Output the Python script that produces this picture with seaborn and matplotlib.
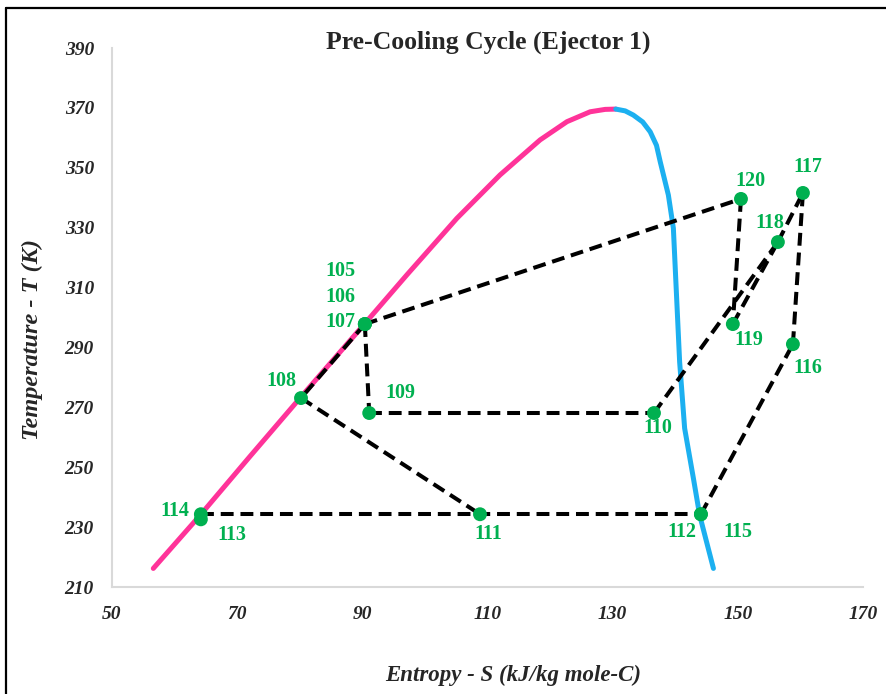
import numpy as np
import pandas as pd
import matplotlib
matplotlib.use("Agg")
import matplotlib.pyplot as plt
from matplotlib.lines import Line2D
import seaborn as sns

# ---- data ----
# saturated liquid line (pink) and saturated vapour line (blue)
liq_S = [56.6, 64.1, 72.0, 80.0, 90.2, 97.1, 105.1, 112.0, 118.4, 122.7, 126.4, 128.8, 130.5]
liq_T = [216.2, 234.0, 253.5, 273.0, 297.5, 314.2, 333.1, 347.6, 359.3, 365.4, 368.7, 369.5, 369.6]
vap_S = [130.5, 132.0, 133.3, 134.8, 136.0, 137.0, 137.6, 138.9, 139.7, 140.2, 140.7, 141.5, 142.9, 143.9, 146.1]
vap_T = [369.6, 369.0, 367.6, 365.3, 362.0, 357.5, 352.0, 340.9, 329.8, 307.5, 285.2, 263.0, 246.3, 234.0, 216.2]

# cycle state points
state_ids = ["105", "106", "107", "108", "109", "110", "111", "112",
             "113", "114", "115", "116", "117", "118", "119", "120"]
state_S = [90.4, 90.4, 90.4, 80.2, 91.1, 136.6, 108.8, 144.1,
           64.2, 64.2, 144.1, 158.8, 160.4, 156.4, 149.2, 150.5]
state_T = [297.8, 297.8, 297.8, 273.1, 268.1, 268.1, 234.3, 234.3,
           232.6, 234.3, 234.3, 291.1, 341.6, 325.2, 297.8, 339.6]

# process connections (dashed)
segments = [("107", "108"), ("108", "111"), ("107", "109"), ("109", "110"),
            ("110", "118"), ("118", "117"), ("119", "118"), ("120", "119"),
            ("107", "120"), ("114", "112"), ("115", "116"), ("116", "117")]

x_ticks = [50, 70, 90, 110, 130, 150, 170]
y_ticks = [210, 230, 250, 270, 290, 310, 330, 350, 370, 390]

title = "Pre-Cooling Cycle (Ejector 1)"
x_label = "Entropy - S (kJ/kg mole-C)"
y_label = "Temperature - T (K)"

# label offsets in pixels (style)
label_offsets = {"105": (-24, 53), "106": (-24, 27), "107": (-24, 2), "108": (-20, 17),
                 "109": (31, 20), "110": (4, -15), "111": (8, -20), "112": (-19, -18),
                 "113": (31, -16), "114": (-26, 3), "115": (37, -18), "116": (15, -24),
                 "117": (5, 26), "118": (-8, 19), "119": (16, -16), "120": (9, 18)}

# ---- style ----
sns.set_style("white")
plt.rcParams["font.family"] = ["Liberation Serif", "DejaVu Serif"]

PINK = "#FF3399"
BLUE = "#1CB0F0"
GREEN = "#00B050"

fig = plt.figure(figsize=(8.87, 6.94), dpi=100)
ax = fig.add_axes([112 / 887, 1 - 587 / 694, (863 - 112) / 887, (587 - 48) / 694])

liq = pd.DataFrame({"S": liq_S, "T": liq_T})
vap = pd.DataFrame({"S": vap_S, "T": vap_T})
sns.lineplot(data=liq, x="S", y="T", sort=False, estimator=None, color=PINK,
             linewidth=3.6, ax=ax, solid_capstyle="round", solid_joinstyle="round")
sns.lineplot(data=vap, x="S", y="T", sort=False, estimator=None, color=BLUE,
             linewidth=3.6, ax=ax, solid_capstyle="round", solid_joinstyle="round")

pos = {k: (s, t) for k, s, t in zip(state_ids, state_S, state_T)}
rows = []
for i, (a, b) in enumerate(segments):
    for k in (a, b):
        rows.append({"seg": i, "S": pos[k][0], "T": pos[k][1]})
seg_df = pd.DataFrame(rows)
for i, g in seg_df.groupby("seg"):
    sns.lineplot(data=g, x="S", y="T", sort=False, estimator=None, color="black",
                 linewidth=2.9, ax=ax)
for line in ax.lines[2:]:
    line.set_dashes((3.2, 1.7))
    line.set_zorder(3)

pts = pd.DataFrame({"id": state_ids, "S": state_S, "T": state_T})
sns.scatterplot(data=pts, x="S", y="T", color=GREEN, s=100, edgecolor="none",
                ax=ax, zorder=5)

for k, s, t in zip(state_ids, state_S, state_T):
    dx, dy = label_offsets[k]
    ax.annotate(k, (s, t), xytext=(dx, dy), textcoords="offset pixels",
                ha="center", va="center", color=GREEN, fontsize=14.5,
                fontweight="bold", zorder=6)

ax.set_xlim(50, 170)
ax.set_ylim(210, 390)
ax.set_xticks(x_ticks)
ax.set_yticks(y_ticks)
ax.set_xticklabels([str(v) for v in x_ticks])
ax.set_yticklabels([str(v) for v in y_ticks])
ax.tick_params(axis="both", length=0, labelsize=14)
ax.tick_params(axis="x", pad=14)
ax.tick_params(axis="y", pad=13)
for lab in ax.get_xticklabels() + ax.get_yticklabels():
    lab.set_fontweight("bold")
    lab.set_fontstyle("italic")
ax.set_xlabel("")
ax.set_ylabel("")
ax.grid(False)
for side in ["top", "right"]:
    ax.spines[side].set_visible(False)
for side in ["left", "bottom"]:
    ax.spines[side].set_color("#D9D9D9")
    ax.spines[side].set_linewidth(1.5)

fig.text(488 / 887, 1 - 42 / 694, title, ha="center", va="center",
         fontsize=18.5, fontweight="bold")
fig.text(513 / 887, 1 - 675 / 694, x_label, ha="center", va="center",
         fontsize=16.5, fontweight="bold", fontstyle="italic")
fig.text(32 / 887, 1 - 340 / 694, y_label, ha="center", va="center",
         rotation=90, fontsize=17.5, fontweight="bold", fontstyle="italic")

# outer frame (left and top edges visible)
fig.add_artist(Line2D([6 / 887, 6 / 887], [0, 1 - 8 / 694], transform=fig.transFigure,
                      color="black", linewidth=1.6))
fig.add_artist(Line2D([6 / 887, 1], [1 - 8 / 694, 1 - 8 / 694], transform=fig.transFigure,
                      color="black", linewidth=1.6))

fig.savefig("out.png", dpi=100)
